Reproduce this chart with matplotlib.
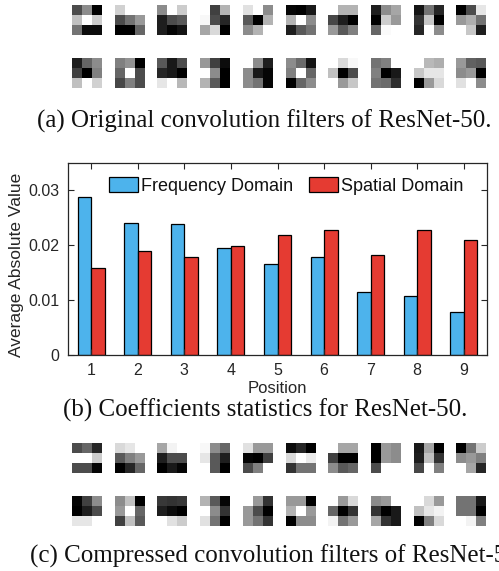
import numpy as np
import matplotlib
matplotlib.use("Agg")
import matplotlib.pyplot as plt

# ---------------- data ----------------
positions = [1, 2, 3, 4, 5, 6, 7, 8, 9]
freq_domain = [0.0288, 0.0240, 0.0239, 0.0195, 0.0165, 0.0179, 0.0115, 0.0107, 0.0079]
spatial_domain = [0.0158, 0.0190, 0.0178, 0.0199, 0.0219, 0.0227, 0.0183, 0.0228, 0.0210]
series_names = ["Frequency Domain", "Spatial Domain"]
yticks = [0, 0.01, 0.02, 0.03]
ytick_labels = ["0", "0.01", "0.02", "0.03"]

# grey levels (0 = black, 1 = white) of 3x3 filters
orig_row1 = [
    [[0.30, 0.55, 0.00], [0.75, 1.00, 0.80], [0.45, 0.05, 0.05]],
    [[0.82, 1.00, 1.00], [0.30, 0.45, 0.60], [0.00, 0.00, 0.40]],
    [[0.55, 1.00, 0.80], [0.12, 0.30, 0.35], [0.12, 0.02, 0.08]],
    [[1.00, 0.25, 0.70], [0.97, 0.30, 0.15], [0.65, 0.85, 0.00]],
    [[0.88, 1.00, 0.55], [0.35, 0.00, 0.70], [0.55, 0.70, 1.00]],
    [[0.02, 0.00, 0.10], [0.70, 1.00, 0.55], [0.12, 0.35, 0.45]],
    [[1.00, 0.70, 0.70], [0.28, 0.12, 0.00], [0.60, 0.35, 0.50]],
    [[0.12, 0.55, 0.65], [0.00, 0.80, 0.60], [0.40, 0.98, 1.00]],
    [[0.08, 0.45, 0.15], [0.20, 0.78, 0.00], [0.15, 1.00, 0.55]],
    [[0.00, 0.30, 0.90], [0.60, 0.68, 0.45], [1.00, 0.78, 0.12]],
]
orig_row2 = [
    [[0.12, 0.40, 0.55], [0.25, 0.00, 0.50], [0.75, 1.00, 0.82]],
    [[0.50, 0.58, 0.00], [0.40, 1.00, 0.30], [0.28, 0.50, 0.30]],
    [[0.35, 0.10, 0.30], [0.15, 0.10, 0.00], [0.90, 1.00, 0.72]],
    [[0.60, 0.25, 0.05], [1.00, 0.55, 0.00], [0.70, 0.35, 0.00]],
    [[1.00, 0.55, 0.12], [0.55, 0.10, 0.02], [0.55, 0.45, 0.02]],
    [[0.55, 0.42, 0.08], [0.50, 1.00, 0.40], [0.00, 0.40, 0.55]],
    [[1.00, 0.85, 0.97], [0.75, 0.00, 0.30], [1.00, 0.60, 0.78]],
    [[0.45, 0.50, 1.00], [0.50, 0.00, 0.10], [0.45, 0.42, 0.18]],
    [[1.00, 0.72, 0.68], [0.78, 0.90, 0.90], [0.00, 0.60, 0.85]],
    [[0.60, 0.38, 0.35], [0.55, 0.60, 0.00], [0.88, 1.00, 0.55]],
]
comp_row1 = [
    [[0.30, 0.40, 0.15], [1.00, 1.00, 0.80], [0.30, 0.30, 0.02]],
    [[0.85, 0.90, 1.00], [0.35, 0.50, 0.60], [0.00, 0.15, 0.40]],
    [[0.65, 0.95, 1.00], [0.12, 0.30, 0.30], [0.00, 0.10, 0.02]],
    [[0.97, 0.55, 0.40], [0.90, 0.35, 0.12], [1.00, 0.35, 0.00]],
    [[0.88, 0.60, 0.60], [0.02, 0.00, 0.25], [0.30, 0.50, 1.00]],
    [[0.05, 0.15, 0.00], [0.85, 1.00, 0.92], [0.20, 0.45, 0.45]],
    [[1.00, 0.65, 0.65], [0.25, 0.00, 0.00], [0.55, 0.35, 0.40]],
    [[0.00, 0.60, 0.55], [0.00, 0.60, 0.55], [0.30, 1.00, 1.00]],
    [[0.10, 0.65, 0.00], [0.12, 0.75, 0.20], [0.28, 1.00, 0.50]],
    [[0.00, 0.45, 0.80], [0.55, 0.60, 0.50], [1.00, 0.65, 0.15]],
]
comp_row2 = [
    [[0.02, 0.25, 0.55], [0.00, 0.12, 0.30], [0.90, 0.90, 1.00]],
    [[0.55, 0.75, 0.00], [0.60, 1.00, 0.40], [0.25, 0.75, 0.35]],
    [[0.22, 0.20, 0.22], [0.12, 0.05, 0.00], [1.00, 0.88, 0.80]],
    [[0.70, 0.35, 0.02], [1.00, 0.55, 0.20], [0.88, 0.45, 0.00]],
    [[1.00, 0.60, 0.20], [0.60, 0.30, 0.00], [0.60, 0.45, 0.20]],
    [[0.60, 0.60, 0.00], [0.70, 1.00, 0.60], [0.00, 0.55, 0.55]],
    [[1.00, 0.60, 0.85], [0.40, 0.00, 0.20], [0.95, 0.45, 0.60]],
    [[0.55, 0.60, 1.00], [0.20, 0.00, 0.10], [0.65, 0.20, 0.10]],
    [[1.00, 0.85, 0.60], [0.75, 0.90, 0.95], [0.00, 0.50, 0.85]],
    [[0.45, 0.45, 0.10], [0.45, 0.45, 0.00], [1.00, 0.95, 0.50]],
]
captions = ["(a) Original convolution filters of ResNet-50.",
            "(b) Coefficients statistics for ResNet-50.",
            "(c) Compressed convolution filters of ResNet-50."]

# ---------------- figure ----------------
W, H = 499, 571
fig = plt.figure(figsize=(W / 100, H / 100), dpi=100)

def px_axes(x0, y0, w, h):
    return fig.add_axes([x0 / W, 1 - (y0 + h) / H, w / W, h / H])

# filter grids
filter_x0 = 72
filter_pitch = 42.7
filter_size = 30
rows = [(orig_row1, 5), (orig_row2, 58), (comp_row1, 443), (comp_row2, 496)]
for filters, ytop in rows:
    for i, f in enumerate(filters):
        ax = px_axes(filter_x0 + i * filter_pitch, ytop, filter_size, filter_size)
        ax.imshow(np.array(f), cmap="gray", vmin=0, vmax=1, interpolation="nearest")
        ax.axis("off")

# captions
serif = "Liberation Serif"
fig.text(37 / W, 1 - 127.5 / H, captions[0], family=serif, fontsize=18,
         ha="left", va="baseline", color="#111111")
fig.text(63 / W, 1 - 416.5 / H, captions[1], family=serif, fontsize=18,
         ha="left", va="baseline", color="#111111")
fig.text(30 / W, 1 - 563 / H, captions[2], family=serif, fontsize=18,
         ha="left", va="baseline", color="#111111")

# bar chart
sans = "Liberation Sans"
ax = px_axes(68, 163, 419, 192)
x = np.array(positions, dtype=float)
bw = 0.29
blue = "#4DB3EC"
red = "#E53B32"
ax.bar(x - bw / 2, freq_domain, width=bw, color=blue, edgecolor="black",
       linewidth=0.9, label=series_names[0])
ax.bar(x + bw / 2, spatial_domain, width=bw, color=red, edgecolor="black",
       linewidth=0.9, label=series_names[1])
ax.set_xlim(0.5, 9.5)
ax.set_ylim(0, 0.035)
ax.set_xticks(positions)
ax.set_xticklabels([str(p) for p in positions], family=sans, fontsize=11.5, color="#262626")
ax.set_yticks(yticks)
ax.set_yticklabels(ytick_labels, family=sans, fontsize=11.5, color="#262626")
ax.tick_params(direction="in", length=4, width=0.8, top=True, right=True,
               color="#262626", pad=6)
for s in ax.spines.values():
    s.set_linewidth(0.9)
    s.set_color("#262626")
ax.set_xlabel("Position", family=sans, fontsize=12, color="#262626", labelpad=2)
ax.set_ylabel("Average Absolute Value", family=sans, fontsize=12.5, color="#262626")
ax.yaxis.set_label_coords(-0.105, 0.47)

leg = ax.legend(loc="center left", bbox_to_anchor=(0.098, 0.88), ncol=2, frameon=False,
                prop={"family": sans, "size": 13}, borderpad=0, borderaxespad=0,
                handlelength=1.6, handleheight=0.9, handletextpad=0.15,
                columnspacing=0.9)
for t in leg.get_texts():
    t.set_color("#111111")

fig.savefig("out.png", dpi=100)
